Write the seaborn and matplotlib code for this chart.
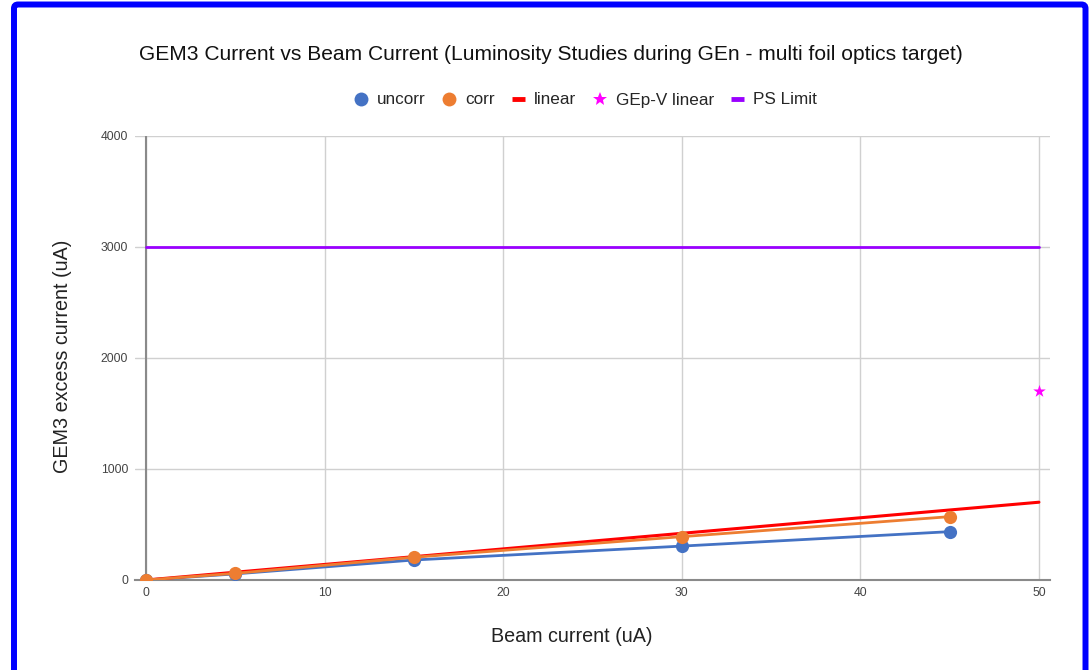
import matplotlib
matplotlib.use("Agg")
import matplotlib.pyplot as plt
import pandas as pd
import seaborn as sns
from matplotlib.lines import Line2D
from matplotlib.patches import FancyBboxPatch

# Luminosity scan: GEM3 excess current against beam current
beam_current = [0, 5, 15, 30, 45]
gem3_uncorr = [0, 55, 180, 305, 435]
gem3_corr = [0, 60, 205, 390, 570]

# Linear expectation and reference points
linear_x = [0, 50]
linear_y = [0, 700]
gepv_x = [50]
gepv_y = [1700]
ps_limit_x = [0, 50]
ps_limit_y = [3000, 3000]

x_ticks = [0, 10, 20, 30, 40, 50]
y_ticks = [0, 1000, 2000, 3000, 4000]

C_UNCORR = "#4472c4"
C_CORR = "#ed7d31"
C_LINEAR = "#ff0000"
C_GEPV = "#ff00ff"
C_PS = "#9900ff"

sns.set_theme(style="white")
plt.rcParams["font.family"] = ["Liberation Sans", "DejaVu Sans"]

W, H = 1090, 670
fig = plt.figure(figsize=(W / 100, H / 100), dpi=100)
ax = fig.add_axes([135 / W, 90 / H, 915 / W, 444.5 / H])

df = pd.DataFrame({"beam": beam_current, "uncorr": gem3_uncorr, "corr": gem3_corr})
lin = pd.DataFrame({"x": linear_x, "y": linear_y})
ps = pd.DataFrame({"x": ps_limit_x, "y": ps_limit_y})
gepv = pd.DataFrame({"x": gepv_x, "y": gepv_y})

sns.lineplot(data=ps, x="x", y="y", ax=ax, color=C_PS, lw=2, legend=False, zorder=3)
sns.lineplot(data=df, x="beam", y="uncorr", ax=ax, color=C_UNCORR, lw=2,
             marker="o", markersize=9.5, markeredgewidth=0, legend=False, zorder=4)
sns.lineplot(data=df, x="beam", y="corr", ax=ax, color=C_CORR, lw=2,
             marker="o", markersize=9.5, markeredgewidth=0, legend=False, zorder=5)
sns.lineplot(data=lin, x="x", y="y", ax=ax, color=C_LINEAR, lw=2.2, legend=False, zorder=4.5)
sns.scatterplot(data=gepv, x="x", y="y", ax=ax, color=C_GEPV, marker="*", s=90,
                linewidth=0, legend=False, zorder=6)

# Axes frame in a spreadsheet-chart style
ax.set_xlim(-0.616, 50.62)
ax.set_ylim(0, 4000)
ax.set_xticks(x_ticks)
ax.set_yticks(y_ticks)
ax.grid(True, color="#d0d0d0", lw=1)
ax.set_axisbelow(True)
for side in ("left", "right", "top"):
    ax.spines[side].set_visible(False)
ax.spines["bottom"].set_color("#8a8a8a")
ax.spines["bottom"].set_linewidth(1.5)
ax.axvline(0, color="#8a8a8a", lw=1.5, zorder=2)
ax.tick_params(axis="both", length=0, labelsize=8.7, labelcolor="#444444")
ax.tick_params(axis="y", pad=5)
ax.tick_params(axis="x", pad=5)
ax.set_xlabel("")
ax.set_ylabel("")

fig.text(551 / W, 1 - 55 / H,
         "GEM3 Current vs Beam Current (Luminosity Studies during GEn - multi foil optics target)",
         ha="center", va="center", fontsize=15.15, color="#111111")
fig.text(571.5 / W, 1 - 636 / H, "Beam current (uA)", ha="center", va="center",
         fontsize=14.2, color="#222222")
fig.text(62 / W, 1 - 356 / H, "GEM3 excess current (uA)", ha="center", va="center",
         rotation=90, fontsize=14.2, color="#222222")

handles = [
    Line2D([], [], ls="none", marker="o", markersize=10, color=C_UNCORR, markeredgewidth=0),
    Line2D([], [], ls="none", marker="o", markersize=10, color=C_CORR, markeredgewidth=0),
    Line2D([], [], color=C_LINEAR, lw=3.5, solid_capstyle="butt"),
    Line2D([], [], ls="none", marker="*", markersize=10, color=C_GEPV, markeredgewidth=0),
    Line2D([], [], color=C_PS, lw=3.5, solid_capstyle="butt"),
]
labels = ["uncorr", "corr", "linear", "GEp-V linear", "PS Limit"]
fig.legend(handles, labels, loc="center", bbox_to_anchor=(586 / W, 1 - 100 / H),
           ncol=5, frameon=False, fontsize=12.3, handlelength=0.75,
           handletextpad=0.55, columnspacing=1.0)

# Blue outline around the chart
fig.patches.append(FancyBboxPatch((14, -5), 1071.5, 670.5,
                                  boxstyle="round,pad=0,rounding_size=4",
                                  transform=None, fill=False,
                                  ec="#0000ff", lw=4.3))

fig.savefig("out.png", dpi=100)
